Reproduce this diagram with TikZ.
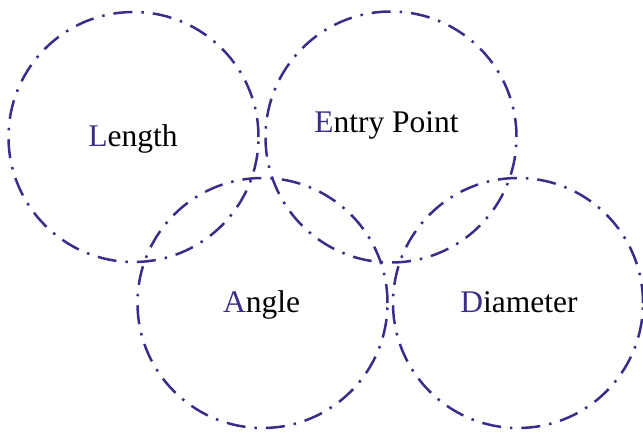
\documentclass[tikz,border=0pt]{standalone}
\usepackage{fontspec}
\setmainfont{Liberation Serif}
\newfontfamily\timesfont{Liberation Serif}
\definecolor{ringblue}{RGB}{56,46,138}
\begin{document}
\begin{tikzpicture}[x=1pt,y=1pt,
  ring/.style={draw=ringblue, line width=2.5pt,
    dash pattern=on 19pt off 9pt on 2.5pt off 9pt},
  ringtext/.style={anchor=base, font=\timesfont\fontsize{31.5}{34}\selectfont, inner sep=0pt}]
\useasboundingbox (0,0) rectangle (643,434);
\coordinate (cL) at (133.5,297);
\coordinate (cE) at (391,297);
\coordinate (cA) at (262.5,131);
\coordinate (cD) at (518,131);
\draw[ring] (cL) circle[radius=125];
\draw[ring] (cE) circle[radius=125.5];
\draw[ring] (cA) circle[radius=125];
\draw[ring] (cD) circle[radius=125];
\node[ringtext] (tL) at (133,287) {\textcolor{ringblue}{L}ength};
\node[ringtext] (tE) at (386.5,301) {\textcolor{ringblue}{E}ntry Point};
\node[ringtext] (tA) at (261.5,121) {\textcolor{ringblue}{A}ngle};
\node[ringtext] (tD) at (519,121) {\textcolor{ringblue}{D}iameter};
\end{tikzpicture}
\end{document}
